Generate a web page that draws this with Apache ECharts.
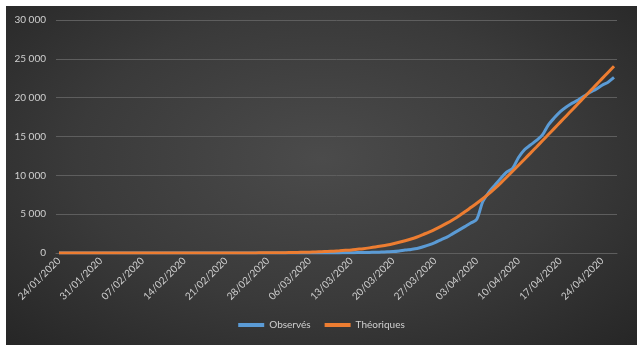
<!DOCTYPE html>
<html lang="fr" style="height: 100%">
<head>
  <meta charset="utf-8">
</head>
<body style="height: 100%; margin: 0; background: #fff">
  <div id="container" style="position: absolute; left: 6px; top: 6px; width: 631px; height: 339px; background: radial-gradient(ellipse at 50% 45%, #4b4b4b 0%, #3a3a3a 55%, #262626 100%)"></div>

  <script type="text/javascript" src="https://cdn.jsdelivr.net/npm/echarts@6/dist/echarts.min.js"></script>
  <script type="text/javascript">
    // 94 jours, du 24/01/2020 au 26/04/2020
    var startDate = new Date(2020, 0, 24);
    var dates = [];
    for (var i = 0; i < 94; i++) {
      var d = new Date(startDate.getTime() + i * 86400000);
      var dd = ('0' + d.getDate()).slice(-2);
      var mm = ('0' + (d.getMonth() + 1)).slice(-2);
      dates.push(dd + '/' + mm + '/' + d.getFullYear());
    }

    var observes = [
      0, 0, 0, 0, 0, 0, 0, 0, 0, 0,
      0, 0, 0, 0, 0, 0, 0, 0, 0, 0,
      0, 1, 1, 1, 1, 1, 1, 1, 1, 1,
      1, 1, 1, 1, 1, 1, 2, 2, 2, 2,
      2, 2, 3, 4, 5, 7, 9, 16, 25, 33,
      50, 60, 80, 90, 120, 150, 180, 260, 380, 460,
      570, 800, 1050, 1350, 1700, 2050, 2500, 2950, 3400, 3850,
      4350, 6600, 7800, 8700, 9600, 10400, 10900, 12300, 13300, 13900,
      14500, 15200, 16500, 17400, 18200, 18800, 19300, 19700, 20200, 20700,
      21100, 21600, 22000, 22600
    ];

    var theoriques = [
      0, 0, 0, 0, 0, 0, 0, 0, 0, 0,
      0, 0, 0, 0, 0, 0, 0, 0, 0, 0,
      0, 0, 1, 1, 1, 2, 2, 3, 4, 5,
      7, 9, 12, 15, 19, 24, 30, 38, 47, 59,
      73, 90, 110, 135, 165, 200, 240, 285, 340, 400,
      480, 560, 660, 770, 900, 1040, 1200, 1380, 1580, 1800,
      2060, 2380, 2700, 3050, 3430, 3840, 4290, 4770, 5300, 5850,
      6400, 6980, 7600, 8280, 9000, 9750, 10520, 11300, 12080, 12860,
      13650, 14450, 15250, 16050, 16850, 17650, 18450, 19250, 20050, 20850,
      21650, 22450, 23250, 24050
    ];

    var yMax = 30000;
    var yStep = 5000;

    var dom = document.getElementById('container');
    var myChart = echarts.init(dom, null, { renderer: 'canvas' });

    var labelFont = 'Lato, "Open Sans", sans-serif';

    var option = {
      backgroundColor: 'transparent',
      animation: false,
      grid: {
        left: 50,
        right: 20,
        top: 14,
        bottom: 92
      },
      legend: {
        bottom: 10,
        left: 'center',
        icon: 'rect',
        itemWidth: 26,
        itemHeight: 4,
        itemGap: 14,
        textStyle: { color: '#d0d0d0', fontSize: 10, fontFamily: labelFont },
        data: ['Observés', 'Théoriques']
      },
      xAxis: {
        type: 'category',
        data: dates,
        boundaryGap: true,
        axisLine: { show: true, lineStyle: { color: '#5e5e5e', width: 1 } },
        axisTick: { show: false },
        axisLabel: {
          interval: 6,
          rotate: 45,
          color: '#d0d0d0',
          fontSize: 10,
          fontFamily: labelFont,
          margin: 6
        }
      },
      yAxis: {
        type: 'value',
        min: 0,
        max: yMax,
        interval: yStep,
        axisLine: { show: false },
        axisTick: { show: false },
        splitLine: { lineStyle: { color: '#5e5e5e', width: 1 } },
        axisLabel: {
          color: '#d0d0d0',
          fontSize: 10,
          fontFamily: labelFont,
          margin: 10,
          formatter: function (v) {
            return String(v).replace(/\B(?=(\d{3})+(?!\d))/g, ' ');
          }
        }
      },
      series: [
        {
          name: 'Observés',
          type: 'line',
          data: observes,
          symbol: 'none',
          smooth: 0.3,
          lineStyle: { color: '#5b9bd5', width: 3 },
          itemStyle: { color: '#5b9bd5' }
        },
        {
          name: 'Théoriques',
          type: 'line',
          data: theoriques,
          symbol: 'none',
          smooth: 0.3,
          lineStyle: { color: '#ed7d31', width: 3 },
          itemStyle: { color: '#ed7d31' }
        }
      ]
    };

    myChart.setOption(option);
    window.addEventListener('resize', myChart.resize);
  </script>
</body>
</html>
